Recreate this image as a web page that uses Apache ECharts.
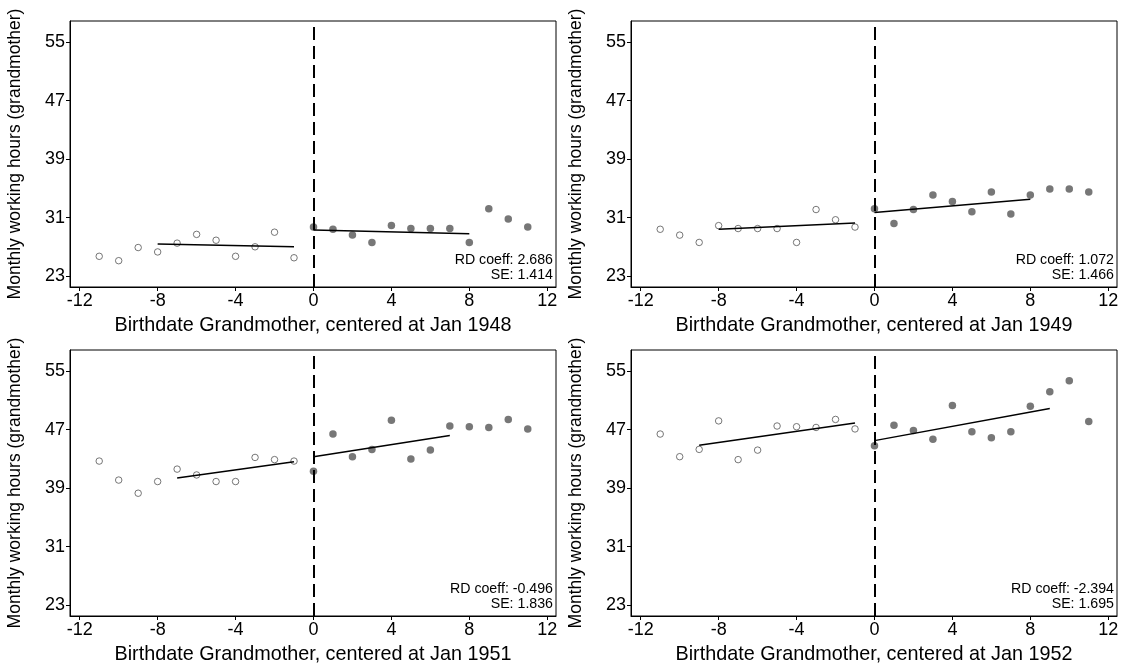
<!DOCTYPE html>
<html>
<head>
<meta charset="utf-8">
<script src="https://cdn.jsdelivr.net/npm/echarts@6/dist/echarts.min.js"></script>
<style>
html,body{margin:0;padding:0;background:#fff;}
#chart{width:1122px;height:670px;}
</style>
</head>
<body>
<div id="chart"></div>
<script>
// ---- data ----
const xLeft = [-11, -10, -9, -8, -7, -6, -5, -4, -3, -2, -1];
const xRight = [0, 1, 2, 3, 4, 5, 6, 7, 8, 9, 10, 11];
const yTicks = [23, 31, 39, 47, 55];
const xTicks = [-12, -8, -4, 0, 4, 8, 12];

const p1Left  = [25.7, 25.1, 26.9, 26.3, 27.5, 28.7, 27.9, 25.7, 27.0, 29.0, 25.5];
const p1Right = [29.7, 29.4, 28.6, 27.6, 29.9, 29.5, 29.5, 29.5, 27.6, 32.2, 30.8, 29.7];
const fit1Left  = [[-8, 27.37], [-1, 27.0]];
const fit1Right = [[0, 29.3], [8, 28.8]];

const p2Left  = [29.4, 28.6, 27.6, 29.9, 29.5, 29.5, 29.5, 27.6, 32.1, 30.7, 29.7];
const p2Right = [32.2, 30.2, 32.1, 34.1, 33.2, 31.8, 34.5, 31.5, 34.1, 34.9, 34.9, 34.5];
const fit2Left  = [[-8, 29.4], [-1, 30.27]];
const fit2Right = [[0, 31.7], [8, 33.5]];

const p3Left  = [42.7, 40.1, 38.3, 39.9, 41.6, 40.8, 39.9, 39.9, 43.2, 42.9, 42.7];
const p3Right = [41.3, 46.4, 43.3, 44.3, 48.3, 43.0, 44.2, 47.5, 47.4, 47.3, 48.4, 47.1];
const fit3Left  = [[-7, 40.4], [-1, 42.6]];
const fit3Right = [[0, 43.3], [7, 46.2]];

const p4Left  = [46.4, 43.3, 44.3, 48.2, 42.9, 44.2, 47.5, 47.4, 47.3, 48.4, 47.1];
const p4Right = [44.8, 47.6, 46.9, 45.7, 50.3, 46.7, 45.9, 46.7, 50.2, 52.2, 53.7, 48.1];
const fit4Left  = [[-9, 44.85], [-1, 47.9]];
const fit4Right = [[0, 45.5], [9, 49.9]];

const titles = ['Birthdate Grandmother, centered at Jan 1948', 'Birthdate Grandmother, centered at Jan 1949',
                'Birthdate Grandmother, centered at Jan 1951', 'Birthdate Grandmother, centered at Jan 1952'];
const rdCoef = ['RD coeff: 2.686', 'RD coeff: 1.072', 'RD coeff: -0.496', 'RD coeff: -2.394'];
const rdSE   = ['SE: 1.414', 'SE: 1.466', 'SE: 1.836', 'SE: 1.695'];

const panels = [
  {L: p1Left, R: p1Right, fL: fit1Left, fR: fit1Right},
  {L: p2Left, R: p2Right, fL: fit2Left, fR: fit2Right},
  {L: p3Left, R: p3Right, fL: fit3Left, fR: fit3Right},
  {L: p4Left, R: p4Right, fL: fit4Left, fR: fit4Right}
];

// ---- layout ----
const FONT = 'Liberation Sans, Arial, sans-serif';
const gridPos = [
  {left: 70, top: 21, width: 486, height: 266},
  {left: 631, top: 21, width: 486, height: 266},
  {left: 70, top: 350, width: 486, height: 266},
  {left: 631, top: 350, width: 486, height: 266}
];

const grids = [], xAxes = [], yAxes = [], series = [], graphics = [];
panels.forEach((p, i) => {
  const g = gridPos[i];
  grids.push(Object.assign({show: true, borderColor: '#000', borderWidth: 1, backgroundColor: '#fff'}, g));
  xAxes.push({
    type: 'value', gridIndex: i, min: -12.5, max: 12.45,
    name: titles[i], nameLocation: 'middle', nameGap: 29,
    nameTextStyle: {fontFamily: FONT, fontSize: 19.8, color: '#000'},
    axisLine: {show: true, onZero: false, lineStyle: {color: '#000', width: 1}},
    axisTick: {show: true, inside: false, length: 4, customValues: xTicks, lineStyle: {color: '#000'}},
    axisLabel: {customValues: xTicks, fontFamily: FONT, fontSize: 18, color: '#000', margin: 5},
    splitLine: {show: false}
  });
  yAxes.push({
    type: 'value', gridIndex: i, min: 21.5, max: 57.9,
    name: 'Monthly working hours (grandmother)', nameLocation: 'middle', nameGap: 46,
    nameTextStyle: {fontFamily: FONT, fontSize: 17.5, color: '#000'},
    axisLine: {show: true, onZero: false, lineStyle: {color: '#000', width: 1}},
    axisTick: {show: true, inside: false, length: 4, customValues: yTicks, lineStyle: {color: '#000'}},
    axisLabel: {customValues: yTicks, fontFamily: FONT, fontSize: 18, color: '#000', margin: 5},
    splitLine: {show: false}
  });
  series.push({
    type: 'scatter', xAxisIndex: i, yAxisIndex: i, symbol: 'circle', symbolSize: 6.5,
    itemStyle: {color: '#fff', borderColor: '#555', borderWidth: 1},
    data: xLeft.map((x, k) => [x, p.L[k]]),
    silent: true, z: 3,
    markLine: {
      silent: true, symbol: 'none', label: {show: false},
      lineStyle: {color: '#000', width: 2, type: [13, 6]},
      data: [{xAxis: 0}]
    }
  });
  series.push({
    type: 'scatter', xAxisIndex: i, yAxisIndex: i, symbol: 'circle', symbolSize: 7.5,
    itemStyle: {color: '#555'},
    data: xRight.map((x, k) => [x, p.R[k]]),
    silent: true, z: 3
  });
  [p.fL, p.fR].forEach(f => {
    series.push({
      type: 'line', xAxisIndex: i, yAxisIndex: i, symbol: 'none', silent: true,
      lineStyle: {color: '#000', width: 1.5}, data: f, z: 4
    });
  });
  const rx = g.left + g.width - 3;
  const ry = g.top + g.height - 34;
  graphics.push({type: 'text', right: 1122 - rx, top: ry, style: {text: rdCoef[i], fontFamily: FONT, fontSize: 14.2, fill: '#000', textAlign: 'right'}});
  graphics.push({type: 'text', right: 1122 - rx, top: ry + 15, style: {text: rdSE[i], fontFamily: FONT, fontSize: 14.2, fill: '#000', textAlign: 'right'}});
});

const chart = echarts.init(document.getElementById('chart'), null, {renderer: 'canvas'});
chart.setOption({
  animation: false,
  backgroundColor: '#fff',
  grid: grids, xAxis: xAxes, yAxis: yAxes, series: series, graphic: graphics
});
</script>
</body>
</html>
